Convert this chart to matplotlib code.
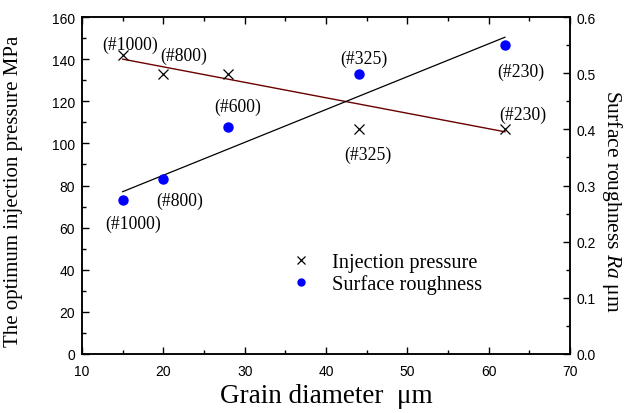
import matplotlib
matplotlib.use("Agg")
import matplotlib.pyplot as plt
from matplotlib.lines import Line2D
from matplotlib.ticker import MultipleLocator

plt.rcParams['mathtext.fontset'] = 'custom'
plt.rcParams['mathtext.rm'] = 'Liberation Serif'
plt.rcParams['mathtext.it'] = 'Liberation Serif:italic'

# Data
grain = [15, 20, 28, 44, 62]
pressure = [142, 133, 133, 107, 107]
roughness = [0.274, 0.311, 0.404, 0.498, 0.550]

trend_x = [15, 62]
trend_pressure = [140, 105.5]
trend_roughness = [0.289, 0.564]

# labels: (text, x, y on left scale)
labels_pressure = [("(#1000)", 15.9, 147.2), ("(#800)", 22.5, 142.0),
                   ("(#325)", 45.2, 95.0), ("(#230)", 64.2, 114.0)]
labels_roughness = [("(#1000)", 16.3, 62.2), ("(#800)", 22.0, 73.1),
                    ("(#600)", 29.2, 117.8), ("(#325)", 44.7, 140.5),
                    ("(#230)", 63.9, 134.4)]

serif = 'Liberation Serif'
sans = 'Liberation Sans'

fig = plt.figure(figsize=(6.29, 4.14), dpi=100)
ax = fig.add_axes([82/629, 1-355/414, (570-82)/629, (355-18)/414])
ax2 = ax.twinx()

ax.plot(trend_x, trend_pressure, color='#6b0000', lw=1.0, zorder=2)
ax.plot(grain, pressure, linestyle='none', marker='x', color='black',
        markersize=7, markeredgewidth=0.9, zorder=3)
ax2.plot(trend_x, trend_roughness, color='black', lw=0.9, zorder=2)
ax2.plot(grain, roughness, linestyle='none', marker='o', color='#0000ff',
         markersize=6.5, zorder=3)

for t, x, y in labels_pressure + labels_roughness:
    ax.text(x, y, t, ha='center', va='center', fontsize=12.7, family=serif)

ax.set_xlim(10, 70)
ax.set_ylim(0, 160)
ax2.set_ylim(0, 0.6)

ax.xaxis.set_major_locator(MultipleLocator(10))
ax.xaxis.set_minor_locator(MultipleLocator(5))
ax.yaxis.set_major_locator(MultipleLocator(20))
ax.yaxis.set_minor_locator(MultipleLocator(10))
ax2.yaxis.set_major_locator(MultipleLocator(0.1))
ax2.yaxis.set_minor_locator(MultipleLocator(0.05))
ax2.yaxis.set_major_formatter(matplotlib.ticker.FormatStrFormatter('%.1f'))

ax.tick_params(axis='x', which='both', direction='in', top=True, bottom=True)
ax.tick_params(axis='y', which='both', direction='in', left=True, right=False)
ax2.tick_params(axis='y', which='both', direction='in', right=True, left=False)
for a in (ax, ax2):
    a.tick_params(which='major', length=5, width=1.0, labelsize=10, pad=5)
    a.tick_params(which='minor', length=3, width=1.0)
    for s in a.spines.values():
        s.set_linewidth(1.1)
ax.tick_params(axis='x', which='major', pad=7)
for lab in ax.get_xticklabels() + ax.get_yticklabels() + ax2.get_yticklabels():
    lab.set_family(sans)

ax.set_xlabel('Grain diameter  μm', fontsize=19.5, family=serif)
ax.xaxis.set_label_coords(0.5, -0.085)
ax.set_ylabel('The optimum injection pressure MPa', fontsize=15, family=serif)
ax.yaxis.set_label_coords(-0.12, 0.485)
ax2.set_ylabel('Surface roughness $\\mathit{Ra}$ μm', fontsize=15.5, family=serif,
               rotation=270, va='center')
ax2.yaxis.set_label_coords(1.087, 0.455)

handles = [Line2D([], [], linestyle='none', marker='x', color='black', markersize=5.5,
                  markeredgewidth=0.9),
           Line2D([], [], linestyle='none', marker='o', color='#0000ff', markersize=5)]
leg = ax2.legend(handles, ['Injection pressure', 'Surface roughness'],
                 frameon=False, loc='upper left',
                 bbox_to_anchor=(291/629, 1-254/414), bbox_transform=fig.transFigure,
                 prop={'family': serif, 'size': 14.7}, handlelength=1.0,
                 handletextpad=1.0, labelspacing=0.1, borderpad=0, borderaxespad=0)

fig.savefig('out.png', dpi=100)
